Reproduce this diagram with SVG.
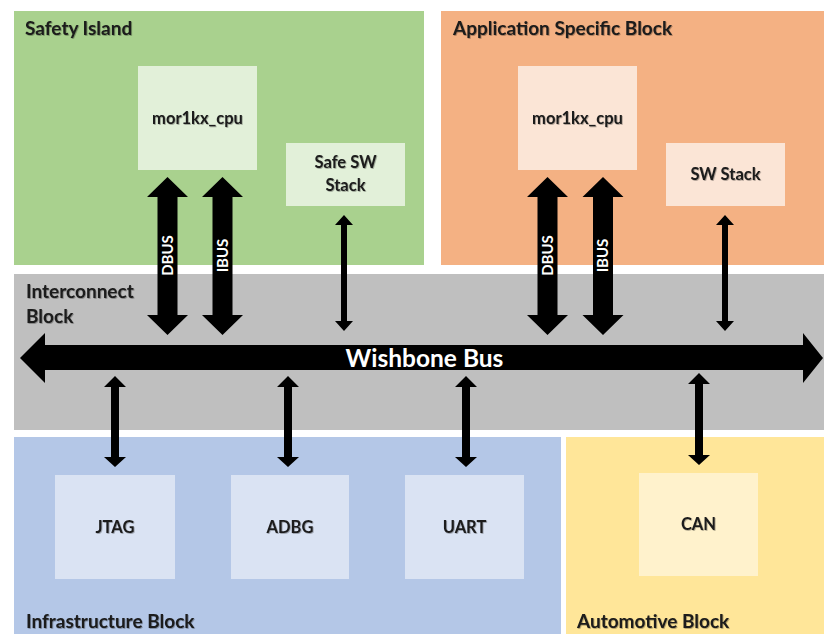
<svg xmlns="http://www.w3.org/2000/svg" width="824" height="634" viewBox="0 0 824 634">
  <style>
    .t { font-family: Lato, "Liberation Sans", sans-serif; font-weight: 700; fill: #1a1a1a; filter: url(#sh); }
    .title { font-size: 19px; }
    .lbl { font-size: 16.5px; text-anchor: middle; }
    .bus { font-family: Lato, "Liberation Sans", sans-serif; font-weight: 700; fill: #ffffff; font-size: 24.5px; text-anchor: middle; }
    .vl { font-family: Lato, "Liberation Sans", sans-serif; font-weight: 700; fill: #ffffff; font-size: 15px; text-anchor: middle; }
    .arr { fill: #000000; }
  </style>
  <defs>
    <filter id="sh" x="-10%" y="-30%" width="120%" height="160%">
      <feDropShadow dx="0.8" dy="0.8" stdDeviation="0.7" flood-color="#000" flood-opacity="0.35"/>
    </filter>
  </defs>
  <rect width="824" height="634" fill="#ffffff"/>

  <g id="safety-island">
    <rect x="14" y="11" width="410" height="254" fill="#A9D18E"/>
    <text class="t title" x="25" y="35">Safety Island</text>
  </g>
  <g id="app-specific-block">
    <rect x="441" y="11" width="383" height="254" fill="#F4B183"/>
    <text class="t title" x="453" y="35">Application Specific Block</text>
  </g>
  <g id="interconnect-block">
    <rect x="14" y="274" width="810" height="156" fill="#BFBFBF"/>
    <text class="t title" x="26" y="298">Interconnect</text>
    <text class="t title" x="26" y="323">Block</text>
  </g>
  <g id="infrastructure-block">
    <rect x="14" y="437" width="547" height="197" fill="#B4C7E7"/>
    <text class="t title" x="26" y="628">Infrastructure Block</text>
  </g>
  <g id="automotive-block">
    <rect x="566" y="437" width="258" height="197" fill="#FFE699"/>
    <text class="t title" x="577" y="628">Automotive Block</text>
  </g>

  <g id="cpu-safety">
    <rect x="138" y="66" width="119" height="104" fill="#E2F0D9"/>
    <text class="t lbl" x="197.5" y="124">mor1kx_cpu</text>
  </g>
  <g id="safe-sw-stack">
    <rect x="286" y="143" width="119" height="63" fill="#E2F0D9"/>
    <text class="t lbl" x="345.5" y="168">Safe SW</text>
    <text class="t lbl" x="345.5" y="191">Stack</text>
  </g>
  <g id="cpu-app">
    <rect x="518" y="66" width="119" height="104" fill="#FBE5D6"/>
    <text class="t lbl" x="577.5" y="124">mor1kx_cpu</text>
  </g>
  <g id="sw-stack">
    <rect x="666" y="143" width="119" height="63" fill="#FBE5D6"/>
    <text class="t lbl" x="725.5" y="180">SW Stack</text>
  </g>
  <g id="jtag">
    <rect x="55" y="475" width="120" height="104" fill="#DAE3F3"/>
    <text class="t lbl" x="115" y="533">JTAG</text>
  </g>
  <g id="adbg">
    <rect x="231" y="475" width="118" height="104" fill="#DAE3F3"/>
    <text class="t lbl" x="290" y="533">ADBG</text>
  </g>
  <g id="uart">
    <rect x="405" y="475" width="119" height="104" fill="#DAE3F3"/>
    <text class="t lbl" x="464.5" y="533">UART</text>
  </g>
  <g id="can">
    <rect x="639" y="473" width="119" height="103" fill="#FFF2CC"/>
    <text class="t lbl" x="698.5" y="530">CAN</text>
  </g>

  <g id="connectors">
    <!-- Wishbone bus -->
    <polygon class="arr" points="20,358 45,333 45,345 803,345 803,333 823,358 803,383 803,370 45,370 45,383"/>
    <text class="bus" x="424.5" y="367">Wishbone Bus</text>

    <!-- DBUS / IBUS fat double arrows -->
    <polygon class="arr" points="167.5,177 188,197 177.5,197 177.5,315 188,315 167.5,335 147,315 157.5,315 157.5,197 147,197"/>
    <polygon class="arr" points="222.5,177 243,197 232.5,197 232.5,315 243,315 222.5,335 202,315 212.5,315 212.5,197 202,197"/>
    <polygon class="arr" points="547.5,177 568,197 557.5,197 557.5,315 568,315 547.5,335 527,315 537.5,315 537.5,197 527,197"/>
    <polygon class="arr" points="603,177 623.5,197 613,197 613,315 623.5,315 603,335 582.5,315 593,315 593,197 582.5,197"/>
    <text class="vl" transform="translate(172.5,255.5) rotate(-90)">DBUS</text>
    <text class="vl" transform="translate(227.5,255.5) rotate(-90)">IBUS</text>
    <text class="vl" transform="translate(552.5,255.5) rotate(-90)">DBUS</text>
    <text class="vl" transform="translate(608,255.5) rotate(-90)">IBUS</text>

    <!-- thin double arrows to SW stacks -->
    <polygon class="arr" points="344,215 353,225 347,225 347,321 353,321 344,331 335,321 341,321 341,225 335,225"/>
    <polygon class="arr" points="725,215 734,225 728,225 728,321 734,321 725,331 716,321 722,321 722,225 716,225"/>

    <!-- peripheral double arrows -->
    <polygon class="arr" points="115,376 126,387 119,387 119,457 126,457 115,467 104,457 111,457 111,387 104,387"/>
    <polygon class="arr" points="288,376 299,387 292,387 292,457 299,457 288,467 277,457 284,457 284,387 277,387"/>
    <polygon class="arr" points="466,376 477,387 470,387 470,457 477,457 466,467 455,457 462,457 462,387 455,387"/>
    <polygon class="arr" points="699,373 710,384 703,384 703,455 710,455 699,465 688,455 695,455 695,384 688,384"/>
  </g>
</svg>
